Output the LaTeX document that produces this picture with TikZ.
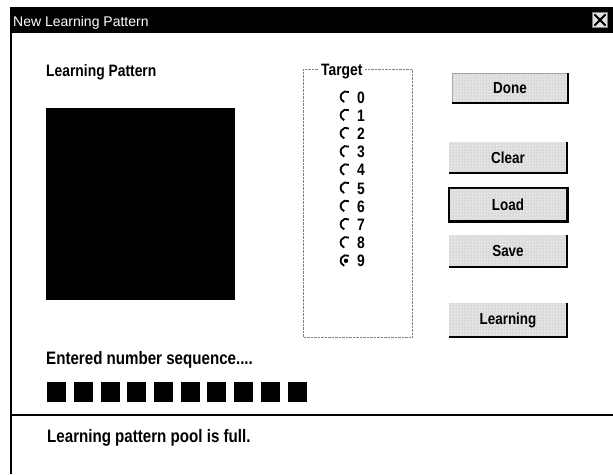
\documentclass[tikz,border=0pt]{standalone}
\usepackage{fontspec}
\setmainfont{Liberation Sans}
\newfontfamily\narrowsans{Liberation Sans}[FakeStretch=0.84]
\usetikzlibrary{calc,patterns}
\begin{document}
\begin{tikzpicture}[x=1pt,y=-1pt,
  lbl/.style={font=\narrowsans\bfseries\fontsize{18}{20}\selectfont, anchor=base west, inner sep=0pt},
  btn/.style={fill=gray!22, postaction={pattern=dots, pattern color=gray!75},
              minimum width=118pt, minimum height=31pt, inner sep=0pt,
              font=\narrowsans\bfseries\fontsize{16}{18}\selectfont},
  radio/.style={circle, minimum size=11pt, inner sep=0pt},
  digit/.style={font=\narrowsans\bfseries\fontsize{16.5}{18}\selectfont, anchor=base west, inner sep=0pt},
  cell/.style={fill=black, minimum width=19pt, minimum height=20pt, inner sep=0pt, anchor=north west}]
\useasboundingbox (0,0) rectangle (613,474);
\fill[white] (0,0) rectangle (613,474);

% title bar
\fill[black] (10,7) rectangle (613,33);
\node[anchor=base west, inner sep=0pt, text=white, font=\fontsize{14}{16}\selectfont] (title) at (13,26) {New Learning Pattern};
\node[draw=gray, fill=gray!25, minimum size=15pt, inner sep=0pt] (close) at (600,20) {};
\draw[line width=1.8pt, shorten >=3pt, shorten <=3pt] (close.north west) -- (close.south east);
\draw[line width=1.8pt, shorten >=3pt, shorten <=3pt] (close.north east) -- (close.south west);

% window frame
\draw[line width=1.2pt] (11,33) -- (11,474);
\draw[line width=1.2pt] (11,415) -- (613,415);

% drawing pad
\node[lbl, font=\narrowsans\bfseries\fontsize{16.5}{18}\selectfont] (padlbl) at (46,76) {Learning Pattern};
\node[fill=black, minimum width=189pt, minimum height=192pt, inner sep=0pt, anchor=north west] (pad) at (46,108) {};

% target group
\draw[gray, densely dotted] (303,69) rectangle (412,337);
\node[fill=white, inner sep=2pt, anchor=base west, font=\narrowsans\bfseries\fontsize{16.5}{18}\selectfont] (target) at (319,75) {Target};
\foreach \d in {0,...,9}{
  \node[radio] (r\d) at (346,{97+18.2*\d}) {};
  \draw[line width=1.8pt] (r\d.60) arc[start angle=60, end angle=250, radius=5.5pt];
  \node[digit] (d\d) at (357,{103+18.2*\d}) {\d};
}
\fill (r9) circle (2.2pt);

% buttons
\node[btn, draw=gray!70, minimum width=115pt, minimum height=30pt] (done) at (510,88) {Done};
\node[btn] (clear) at (508,157.5) {Clear};
\node[btn, draw=black, line width=1.5pt, minimum height=33pt] (load) at (508,204.5) {Load};
\node[btn, minimum height=32pt] (save) at (508,251) {Save};
\node[btn, minimum height=34pt] (learn) at (508,320) {Learning};
\foreach \b in {done,clear,load,save,learn}{
  \draw[line width=2.2pt] (\b.north east) -- (\b.south east) -- (\b.south west);
}

% entered sequence
\node[lbl] (seqlbl) at (46,364) {Entered number sequence....};
\foreach \i in {0,...,9}{
  \node[cell] (s\i) at ({47+26.7*\i},382) {};
}

% status
\node[lbl] (status) at (47,442) {Learning pattern pool is full.};
\end{tikzpicture}
\end{document}
